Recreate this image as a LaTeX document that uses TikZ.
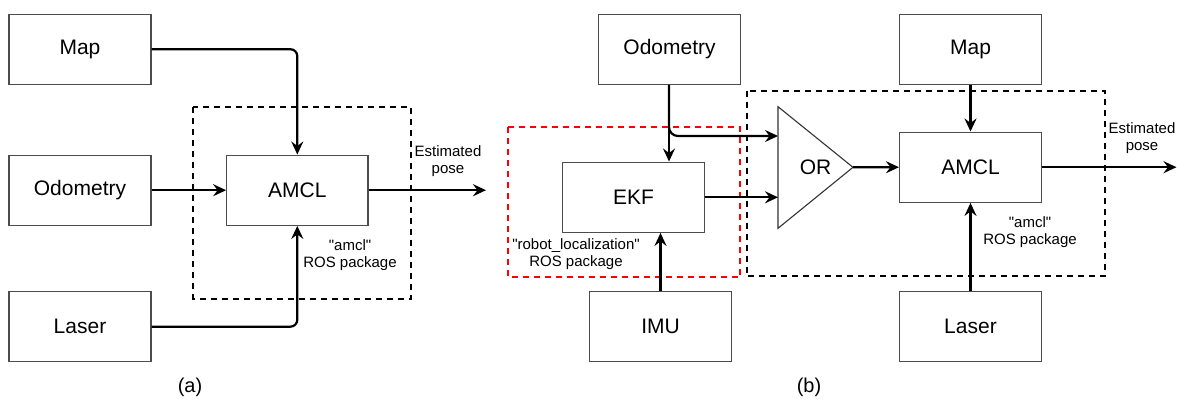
\documentclass[tikz,border=0pt]{standalone}
\usepackage{fontspec}
\setmainfont{Liberation Sans}
\usetikzlibrary{arrows.meta,calc}

\tikzset{
  blk/.style={draw=black!70, line width=1.1pt, minimum width=142pt, minimum height=70.3pt,
              inner sep=0pt, font=\fontsize{21}{25}\selectfont},
  flow/.style={line width=2.2pt, -{Stealth[length=13pt,width=12pt,inset=4.5pt]}},
  grp/.style={line width=2pt, dash pattern=on 6pt off 5pt},
  note/.style={align=center, font=\fontsize{15}{17}\selectfont, inner sep=0pt},
  caption/.style={font=\fontsize{20}{24}\selectfont, inner sep=0pt}
}

\begin{document}
\begin{tikzpicture}[x=1pt,y=-1pt]
\useasboundingbox (0,0) rectangle (1177,399);

% ---------- (a) single AMCL pipeline ----------
\node[blk] (mapA) at (80,49.2) {Map};
\node[blk] (odoA) at (80,190.2) {Odometry};
\node[blk] (lasA) at (80,326.7) {Laser};
\node[blk, minimum width=141.3pt] (amclA) at (297.3,190.2) {AMCL};
\coordinate (outA) at (486,190.2);

\draw[grp] (193.3,107.3) rectangle (410.7,299);

\draw[flow, rounded corners=7pt] (mapA.east) -| (amclA.north);
\draw[flow] (odoA.east) -- (amclA.west);
\draw[flow, rounded corners=7pt] (lasA.east) -| (amclA.south);
\draw[flow] (amclA.east) -- (outA);

\node[note] (estA) at (448,161.5) {Estimated\\pose};
\node[note] (pkgA) at (350,255) {\textquotedbl amcl\textquotedbl\\ROS package};
\node[caption] (capA) at (190,387) {(a)};

% ---------- (b) EKF fused with odometry ----------
\node[blk] (odoB) at (669.5,49.2) {Odometry};
\node[blk] (mapB) at (970.5,49.2) {Map};
\node[blk] (ekfB) at (633.5,197.2) {EKF};
\node[blk] (imuB) at (660.5,326.7) {IMU};
\node[blk] (amclB) at (970.5,167.2) {AMCL};
\node[blk] (lasB) at (970.5,326.7) {Laser};

% OR gate as a triangle
\coordinate (orTop) at (778,106.7);
\coordinate (orBot) at (778,228.3);
\coordinate (orOut) at (853,167.3);
\coordinate (orIn1) at (778,136);
\coordinate (orIn2) at (778,197.3);
\draw[black!80, line width=1.1pt] (orTop) -- (orOut) -- (orBot) -- cycle;
\node[font=\fontsize{21}{25}\selectfont, inner sep=0pt] (orB) at (815.5,167.3) {OR};

\coordinate (outB) at (1176.5,167.2);

\draw[grp, red] (508,127) rectangle (740,277.3);
\draw[grp] (747,90.7) rectangle (1105,276.3);

\draw[flow] (odoB.south -| 669,0) -- (ekfB.north -| 669,0);
\draw[flow, rounded corners=9pt] (odoB.south -| 669,0) |- (orIn1);
\draw[flow] (ekfB.east |- orIn2) -- (orIn2);
\draw[flow] (orOut) -- (amclB.west);
\draw[flow] (mapB.south) -- (amclB.north);
\draw[flow] (lasB.north) -- (amclB.south);
\draw[flow] (imuB.north) -- (imuB.north |- ekfB.south);
\draw[flow] (amclB.east) -- (outB);

\node[note] (estB) at (1142,138.5) {Estimated\\pose};
\node[note] (pkgB) at (1030,232.5) {\textquotedbl amcl\textquotedbl\\ROS package};
\node[note] (pkgR) at (576,254.5) {\textquotedbl robot\_localization\textquotedbl\\ROS package};
\node[caption] (capB) at (809,387) {(b)};
\end{tikzpicture}
\end{document}
